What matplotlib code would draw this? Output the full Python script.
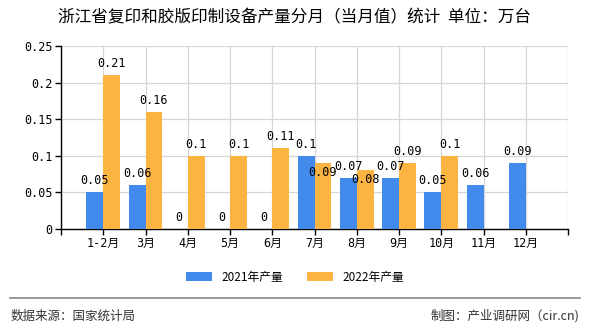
import matplotlib.pyplot as plt
import numpy as np

plt.rcParams['font.family'] = ['DejaVu Sans Mono', 'Noto Sans CJK SC']

# 月份及产量（万台）
months = ['1-2月', '3月', '4月', '5月', '6月', '7月', '8月', '9月', '10月', '11月', '12月']
output_2021 = [0.05, 0.06, 0, 0, 0, 0.1, 0.07, 0.07, 0.05, 0.06, 0.09]
output_2022 = [0.21, 0.16, 0.1, 0.1, 0.11, 0.09, 0.08, 0.09, 0.1, None, None]
y_ticks = [0, 0.05, 0.1, 0.15, 0.2, 0.25]
y_tick_labels = ['0', '0.05', '0.1', '0.15', '0.2', '0.25']

BLUE = '#428bec'
ORANGE = '#fbb342'

fig = plt.figure(figsize=(5.9, 3.3), dpi=100)
ax = fig.add_axes([61 / 590, 1 - 229 / 330, 507 / 590, 183 / 330])

x = np.arange(len(months))
w = 0.4
v21 = [np.nan if v is None else v for v in output_2021]
v22 = [np.nan if v is None else v for v in output_2022]
ax.bar(x - w / 2, v21, width=w, color=BLUE, label='2021年产量', zorder=3)
ax.bar(x + w / 2, v22, width=w, color=ORANGE, label='2022年产量', zorder=3)

# 数值标签
for i, v in enumerate(output_2021):
    if v is not None:
        ax.text(x[i] - w / 2, v + 0.007, f'{v:g}', ha='center', va='bottom', fontsize=8.5, zorder=4)
for i, v in enumerate(output_2022):
    if v is None:
        continue
    # 7月、8月标签放在柱顶内侧，避免与蓝色标签重叠
    if months[i] in ('7月', '8月'):
        ax.text(x[i] + w / 2, v - 0.004, f'{v:g}', ha='center', va='top', fontsize=8.5, zorder=4)
    else:
        ax.text(x[i] + w / 2, v + 0.007, f'{v:g}', ha='center', va='bottom', fontsize=8.5, zorder=4)

ax.set_xlim(-1, len(months))
ax.set_ylim(0, 0.25)
ax.set_xticks(np.arange(-1, len(months) + 1))
ax.set_xticklabels([''] + months + [''], fontsize=8.5)
ax.set_yticks(y_ticks)
ax.set_yticklabels(y_tick_labels, fontsize=8.5)
ax.grid(True, color='#d6d6d6', linewidth=0.9, zorder=0)
ax.spines['top'].set_visible(False)
ax.spines['right'].set_visible(False)
ax.spines['left'].set_linewidth(1.0)
ax.spines['bottom'].set_linewidth(1.0)
ax.tick_params(axis='both', length=4, width=1.0, pad=2)

fig.text(0.5, 1 - 18 / 330, '浙江省复印和胶版印制设备产量分月（当月值）统计  单位：万台',
         ha='center', va='center', fontsize=12, family=['Noto Sans CJK SC'])

fig.legend(loc='center', bbox_to_anchor=(0.5, 1 - 277 / 330), ncol=2, frameon=False,
           handlelength=2.2, handleheight=0.8, columnspacing=2.0,
           prop={'family': ['Noto Sans CJK SC'], 'size': 8.5})

fig.add_artist(plt.Line2D([10 / 590, 580 / 590], [1 - 298 / 330] * 2, color='#888888', linewidth=1.2))
fig.text(11 / 590, 1 - 316 / 330, '数据来源：国家统计局', ha='left', va='center',
         fontsize=9, color='#333333', family=['Noto Sans CJK SC'])
fig.text(579 / 590, 1 - 316 / 330, '制图：产业调研网（cir.cn)', ha='right', va='center',
         fontsize=9, color='#333333', family=['Noto Sans CJK SC', 'DejaVu Sans'])

fig.savefig('out.png', dpi=100)
